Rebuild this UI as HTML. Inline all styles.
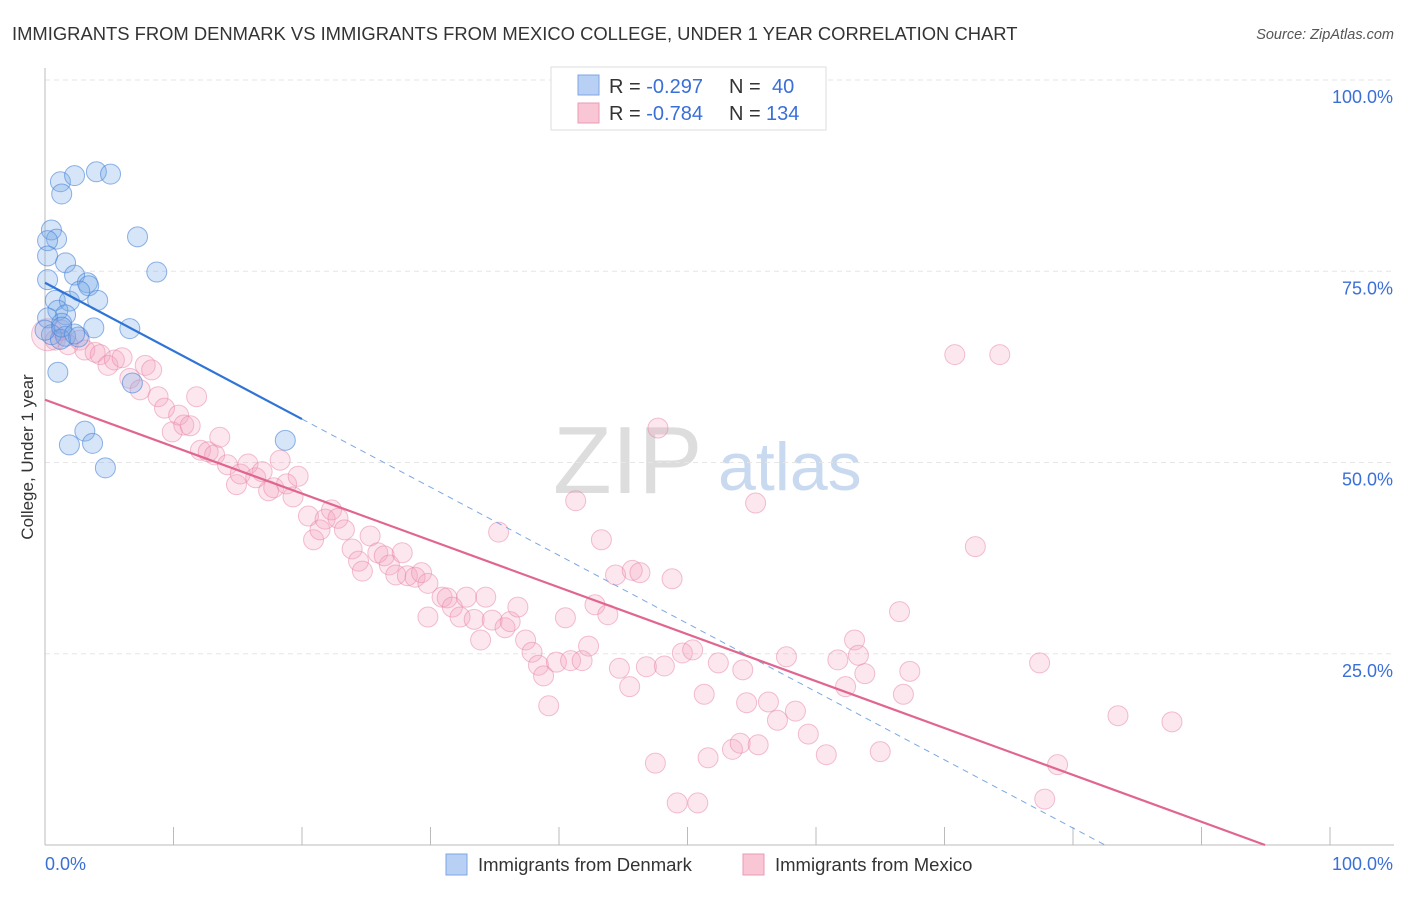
<!DOCTYPE html>
<html><head><meta charset="utf-8"><style>
body{margin:0;background:#fff;font-family:"Liberation Sans",sans-serif;}
svg text{font-family:"Liberation Sans",sans-serif;}
</style></head><body>
<svg id="chart" width="1406" height="892" xmlns="http://www.w3.org/2000/svg">
<text x="12" y="40" font-size="18.4" fill="#333">IMMIGRANTS FROM DENMARK VS IMMIGRANTS FROM MEXICO COLLEGE, UNDER 1 YEAR CORRELATION CHART</text>
<text x="1394" y="39" font-size="14.5" fill="#555" font-style="italic" text-anchor="end">Source: ZipAtlas.com</text>
<g>
<text x="553" y="493" font-size="96" fill="#ddd" font-family="Liberation Serif">ZIP</text>
<text x="718" y="490" font-size="68" fill="#c9daf0">atlas</text>
</g>
<g id="grid"></g>
<g id="axes"></g>
<g id="pts"></g>
<g id="trend"></g>
<text x="33" y="457" font-size="17" fill="#333" text-anchor="middle" transform="rotate(-90 33 457)">College, Under 1 year</text>
<g>
<rect x="551" y="67" width="275" height="63" fill="#fff" stroke="#ddd"/>
<rect x="578" y="75" width="21" height="20" fill="#b8d0f4" stroke="#7ea6e3"/>
<rect x="578" y="103" width="21" height="20" fill="#f8c6d5" stroke="#eb9bb5"/>
<text x="609" y="93" font-size="20" fill="#333">R = <tspan fill="#3a6fd8">-0.297</tspan><tspan x="729">N = </tspan><tspan x="772" fill="#3a6fd8">40</tspan></text>
<text x="609" y="120" font-size="20" fill="#333">R = <tspan fill="#3a6fd8">-0.784</tspan><tspan x="729">N = </tspan><tspan x="766" fill="#3a6fd8">134</tspan></text>
</g>
<g>
<rect x="446" y="854" width="21" height="21" fill="#b8d0f4" stroke="#7ea6e3"/>
<text x="478" y="871" font-size="18.5" fill="#333">Immigrants from Denmark</text>
<rect x="743" y="854" width="21" height="21" fill="#f8c6d5" stroke="#eb9bb5"/>
<text x="775" y="871" font-size="18.5" fill="#333">Immigrants from Mexico</text>
</g>
</svg>
<script>
const yTicks=[100,75,50,25];
const yTickLabels=["100.0%","75.0%","50.0%","25.0%"];
const xTicks=[0,10,20,30,40,50,60,70,80,90,100];
const xEndLabels=["0.0%","100.0%"];
const denX=[1.2,2.3,4.0,5.1,1.3,0.5,0.9,0.2,7.2,0.2,1.6,2.3,8.7,0.2,3.3,3.4,0.8,1.9,4.1,2.7,1.0,1.6,0.2,1.3,3.8,6.6,0.5,1.6,2.6,1.2,6.8,1.0,18.7,1.9,3.1,3.7,4.7,0.0,1.3,2.3];
const denY=[86.7,87.5,88.0,87.7,85.1,80.4,79.2,79.0,79.5,77.0,76.1,74.5,74.9,73.9,73.5,73.1,71.2,71.1,71.2,72.4,69.9,69.3,68.9,68.2,67.6,67.5,66.7,66.5,66.4,66.1,60.4,61.8,52.9,52.3,54.1,52.5,49.3,67.3,67.7,66.8];
const mexX=[0.2,0.8,1.3,1.8,2.7,3.1,3.9,4.3,4.9,5.4,6.0,6.6,7.4,7.8,8.3,8.8,9.3,9.9,10.4,10.8,11.3,11.8,12.1,12.7,13.2,13.6,14.2,14.9,15.2,15.8,16.4,16.9,17.4,17.8,18.3,18.8,19.3,19.7,20.5,20.9,21.4,21.8,22.3,22.8,23.3,23.9,24.4,24.7,25.3,25.9,26.4,26.8,27.3,27.8,28.2,28.8,29.3,29.8,29.8,30.9,31.3,31.7,32.3,32.8,33.4,33.9,34.3,34.8,35.3,35.8,36.2,36.8,37.4,37.9,38.4,38.8,39.2,39.8,40.5,40.9,41.3,41.8,42.3,42.8,43.3,43.8,44.4,44.7,45.5,45.7,46.3,46.8,47.5,47.7,48.2,48.8,49.2,49.6,50.4,50.8,51.3,51.6,52.4,53.5,54.1,54.3,54.6,55.3,55.5,56.3,57.0,57.7,58.4,59.4,60.8,61.7,62.3,63.0,63.3,63.8,65.0,66.5,66.8,67.3,70.8,72.4,74.3,77.4,77.8,78.8,83.5,87.7];
const mexY=[66.7,66.0,67.3,65.4,66.0,64.7,64.4,64.1,62.7,63.4,63.7,61.0,59.5,62.7,62.1,58.6,57.1,54.0,56.2,54.9,54.8,58.6,51.6,51.4,51.0,53.3,49.7,47.1,48.5,49.8,48.0,48.8,46.3,46.7,50.3,47.2,45.5,48.2,43.0,39.9,41.2,42.6,43.8,42.7,41.2,38.7,37.1,35.8,40.4,38.2,37.8,36.6,35.3,38.2,35.2,35.0,35.6,34.2,29.8,32.4,32.3,31.1,29.8,32.4,29.5,26.8,32.4,29.4,40.9,28.4,29.2,31.1,26.8,25.2,23.5,22.1,18.2,23.9,29.7,24.1,45.0,24.1,26.0,31.4,39.9,30.1,35.3,23.1,20.7,35.9,35.6,23.3,10.7,54.5,23.4,34.8,5.5,25.1,25.5,5.5,19.7,11.4,23.8,12.5,13.3,22.9,18.6,44.7,13.1,18.7,16.3,24.6,17.5,14.5,11.8,24.2,20.7,26.8,24.8,22.4,12.2,30.5,19.7,22.7,64.1,39.0,64.1,23.8,6.0,10.5,16.9,16.1];
const denTrend=[73.5,-0.891];
const mexTrend=[58.2,-0.613];
const NS="http://www.w3.org/2000/svg";
const X=v=>45+v*12.85, Y=v=>845-v*7.65;
function mk(tag,attrs,parent){const e=document.createElementNS(NS,tag);for(const k in attrs)e.setAttribute(k,attrs[k]);parent.appendChild(e);return e;}
const grid=document.getElementById('grid'),axes=document.getElementById('axes'),pts=document.getElementById('pts'),trend=document.getElementById('trend');
yTicks.forEach((t,i)=>{
 const l=mk('line',{x1:45,x2:1394,y1:Y(t),y2:Y(t),stroke:'#e6e6e6','stroke-dasharray':'5,4'},grid);
 
 
 const tx=mk('text',{x:1393,y:Y(t)+23,'font-size':18,fill:'#3a6fd8','text-anchor':'end'},axes);
 tx.textContent=yTickLabels[i];
 
 
});
const ya=mk('line',{x1:45,x2:45,y1:68,y2:845,stroke:'#bbb'},axes);


const xa=mk('line',{x1:45,x2:1394,y1:845,y2:845,stroke:'#bbb'},axes);


xTicks.forEach(t=>{
 const l=mk('line',{x1:X(t),x2:X(t),y1:827,y2:845,stroke:'#bbb'},axes);
 
 
});
const xl0=mk('text',{x:45,y:870,'font-size':18,fill:'#3a6fd8'},axes);
xl0.textContent=xEndLabels[0];


const xl1=mk('text',{x:1393,y:870,'font-size':18,fill:'#3a6fd8','text-anchor':'end'},axes);
xl1.textContent=xEndLabels[1];


mexX.forEach((v,i)=>{
 const c=mk('circle',{cx:X(v),cy:Y(mexY[i]),r:i===0?16:10,fill:'rgba(244,160,188,0.25)',stroke:'rgba(232,130,165,0.5)','stroke-width':1},pts);
 
 
});
denX.forEach((v,i)=>{
 const c=mk('circle',{cx:X(v),cy:Y(denY[i]),r:10,fill:'rgba(120,168,232,0.3)',stroke:'rgba(70,130,215,0.6)','stroke-width':1},pts);
 
 
});
const dEnd=-denTrend[0]/denTrend[1];
const d1=mk('line',{x1:X(0),y1:Y(denTrend[0]),x2:X(20),y2:Y(denTrend[0]+denTrend[1]*20),stroke:'#2f74d6','stroke-width':2.2},trend);


const d2=mk('line',{x1:X(20),y1:Y(denTrend[0]+denTrend[1]*20),x2:X(dEnd),y2:Y(0),stroke:'#7aa8e3','stroke-width':1,'stroke-dasharray':'6,5'},trend);


const mEnd=-mexTrend[0]/mexTrend[1];
const m1=mk('line',{x1:X(0),y1:Y(mexTrend[0]),x2:X(mEnd),y2:Y(0),stroke:'#e0668f','stroke-width':2.2},trend);


</script>
</body></html>
